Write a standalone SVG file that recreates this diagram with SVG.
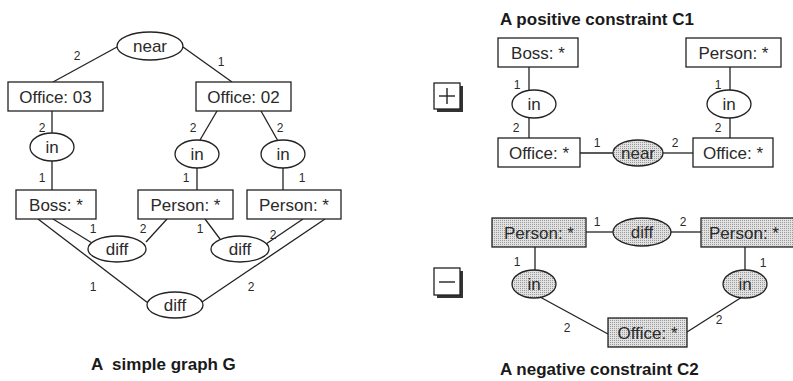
<svg xmlns="http://www.w3.org/2000/svg" width="793" height="381" viewBox="0 0 793 381">
<defs>
<pattern id="dots" width="2" height="2" patternUnits="userSpaceOnUse">
<rect width="2" height="2" fill="#e2e2e2"/>
<rect width="1" height="1" fill="#9a9a9a"/>
</pattern>
<style>
.n{fill:#fff;stroke:#222;stroke-width:1.3}
.s{fill:url(#dots);stroke:#222;stroke-width:1.3}
.t{font-family:"Liberation Sans",Arial,sans-serif;font-size:17px;fill:#2a2a2a;text-anchor:middle}
.l{font-family:"Liberation Sans",Arial,sans-serif;font-size:12px;fill:#2a2a2a;text-anchor:middle}
.h{font-family:"Liberation Sans",Arial,sans-serif;font-size:17px;font-weight:bold;fill:#1a1a1a;white-space:pre}
.c line{stroke:#222;stroke-width:1.3}
</style>
</defs>
<rect width="793" height="381" fill="#fff"/>

<g id="connectors" class="c">
<line x1="117" y1="47" x2="53" y2="82"/>
<line x1="183" y1="47" x2="232" y2="82"/>
<line x1="52" y1="111" x2="52" y2="133"/>
<line x1="52" y1="161" x2="52" y2="190"/>
<line x1="217" y1="111" x2="200" y2="140"/>
<line x1="261" y1="111" x2="278" y2="141"/>
<line x1="197" y1="168" x2="197" y2="190"/>
<line x1="283" y1="168" x2="283" y2="190"/>
<line x1="38" y1="219" x2="148" y2="303"/>
<line x1="53" y1="219" x2="92" y2="243"/>
<line x1="167" y1="219" x2="146" y2="242"/>
<line x1="205" y1="219" x2="220" y2="239"/>
<line x1="303" y1="219" x2="266" y2="244"/>
<line x1="325" y1="219" x2="202" y2="302"/>
<line x1="529" y1="67" x2="529" y2="91"/>
<line x1="529" y1="117" x2="529" y2="138"/>
<line x1="730" y1="67" x2="730" y2="90"/>
<line x1="730" y1="118" x2="730" y2="138"/>
<line x1="580" y1="153" x2="613" y2="153"/>
<line x1="663" y1="153" x2="693" y2="153"/>
<line x1="586" y1="232" x2="613" y2="232"/>
<line x1="671" y1="232" x2="701" y2="232"/>
<line x1="535" y1="247" x2="535" y2="270"/>
<line x1="745" y1="247" x2="745" y2="270"/>
<line x1="540" y1="297" x2="608" y2="334"/>
<line x1="742" y1="297" x2="687" y2="332"/>
</g>

<g id="edge-labels">
<text class="l" x="77" y="60">2</text>
<text class="l" x="221" y="66">1</text>
<text class="l" x="42" y="132">2</text>
<text class="l" x="42" y="182">1</text>
<text class="l" x="193" y="132">2</text>
<text class="l" x="186" y="182">1</text>
<text class="l" x="280" y="132">2</text>
<text class="l" x="302" y="182">1</text>
<text class="l" x="93" y="233">1</text>
<text class="l" x="143" y="233">2</text>
<text class="l" x="200" y="233">1</text>
<text class="l" x="273" y="239">2</text>
<text class="l" x="93" y="291">1</text>
<text class="l" x="251" y="291">2</text>
<text class="l" x="517" y="89">1</text>
<text class="l" x="516" y="132">2</text>
<text class="l" x="718" y="89">1</text>
<text class="l" x="718" y="132">2</text>
<text class="l" x="597" y="147">1</text>
<text class="l" x="675" y="147">2</text>
<text class="l" x="597" y="226">1</text>
<text class="l" x="683" y="226">2</text>
<text class="l" x="517" y="266">1</text>
<text class="l" x="763" y="267">1</text>
<text class="l" x="567" y="332">2</text>
<text class="l" x="719" y="324">2</text>
</g>

<!-- Graph G -->
<g id="g-near"><ellipse class="n" cx="150" cy="46" rx="33" ry="14"/><text class="t" x="150" y="52">near</text></g>
<g id="g-office03"><rect class="n" x="8" y="82" width="95" height="29"/><text class="t" x="55.5" y="102.5">Office: 03</text></g>
<g id="g-office02"><rect class="n" x="196" y="82" width="95" height="29"/><text class="t" x="243.5" y="102.5">Office: 02</text></g>
<g id="g-in1"><ellipse class="n" cx="52" cy="147" rx="22" ry="14"/><text class="t" x="52" y="153">in</text></g>
<g id="g-in2"><ellipse class="n" cx="197" cy="154" rx="22" ry="14"/><text class="t" x="197" y="160">in</text></g>
<g id="g-in3"><ellipse class="n" cx="283" cy="154" rx="22" ry="14"/><text class="t" x="283" y="160">in</text></g>
<g id="g-boss"><rect class="n" x="16" y="190" width="80" height="29"/><text class="t" x="56" y="210.5">Boss: *</text></g>
<g id="g-person1"><rect class="n" x="138" y="190" width="95" height="29"/><text class="t" x="185.5" y="210.5">Person: *</text></g>
<g id="g-person2"><rect class="n" x="247" y="190" width="94" height="29"/><text class="t" x="294" y="210.5">Person: *</text></g>
<g id="g-diff1"><ellipse class="n" cx="117" cy="249" rx="29" ry="13"/><text class="t" x="117" y="255">diff</text></g>
<g id="g-diff2"><ellipse class="n" cx="240" cy="249" rx="29" ry="13"/><text class="t" x="240" y="255">diff</text></g>
<g id="g-diff3"><ellipse class="n" cx="175" cy="305" rx="28" ry="13"/><text class="t" x="175" y="311">diff</text></g>
<text class="h" x="91" y="370">A  simple graph G</text>

<!-- C1 -->
<text class="h" x="500" y="25">A positive constraint C1</text>
<g id="plus-sign">
<rect x="437" y="86" width="26" height="26" fill="#333"/>
<rect x="434" y="83" width="26" height="26" fill="#fff" stroke="#222" stroke-width="1.3"/>
<line x1="439" y1="96" x2="455" y2="96" stroke="#222" stroke-width="1.4"/>
<line x1="447" y1="88" x2="447" y2="104" stroke="#222" stroke-width="1.4"/>
</g>
<g id="c1-boss"><rect class="n" x="498" y="38" width="80" height="29"/><text class="t" x="538" y="58.5">Boss: *</text></g>
<g id="c1-person"><rect class="n" x="686" y="38" width="95" height="29"/><text class="t" x="733.5" y="58.5">Person: *</text></g>
<g id="c1-in1"><ellipse class="n" cx="534" cy="104" rx="22" ry="14"/><text class="t" x="534" y="110">in</text></g>
<g id="c1-in2"><ellipse class="n" cx="729" cy="104" rx="22" ry="14"/><text class="t" x="729" y="110">in</text></g>
<g id="c1-office1"><rect class="n" x="498" y="138" width="82" height="29"/><text class="t" x="539" y="158.5">Office: *</text></g>
<g id="c1-office2"><rect class="n" x="693" y="138" width="80" height="29"/><text class="t" x="733" y="158.5">Office: *</text></g>
<g id="c1-near"><ellipse class="s" cx="638" cy="153" rx="25" ry="13"/><text class="t" x="638" y="159">near</text></g>

<!-- C2 -->
<g id="minus-sign">
<rect x="437" y="271" width="26" height="27" fill="#333"/>
<rect x="434" y="268" width="26" height="27" fill="#fff" stroke="#222" stroke-width="1.3"/>
<line x1="439" y1="282" x2="455" y2="282" stroke="#222" stroke-width="1.4"/>
</g>
<g id="c2-person1"><rect class="s" x="492" y="218" width="94" height="29"/><text class="t" x="539" y="238.5">Person: *</text></g>
<g id="c2-person2"><rect class="s" x="701" y="218" width="96" height="29"/><text class="t" x="744" y="238.5">Person: *</text></g>
<g id="c2-diff"><ellipse class="s" cx="642" cy="232" rx="29" ry="14"/><text class="t" x="642" y="238">diff</text></g>
<g id="c2-in1"><ellipse class="s" cx="534" cy="284" rx="22" ry="14"/><text class="t" x="534" y="290">in</text></g>
<g id="c2-in2"><ellipse class="s" cx="745" cy="284" rx="22" ry="14"/><text class="t" x="745" y="290">in</text></g>
<g id="c2-office"><rect class="s" x="608" y="318" width="79" height="29"/><text class="t" x="647.5" y="338.5">Office: *</text></g>
<text class="h" x="500" y="375">A negative constraint C2</text>
</svg>
